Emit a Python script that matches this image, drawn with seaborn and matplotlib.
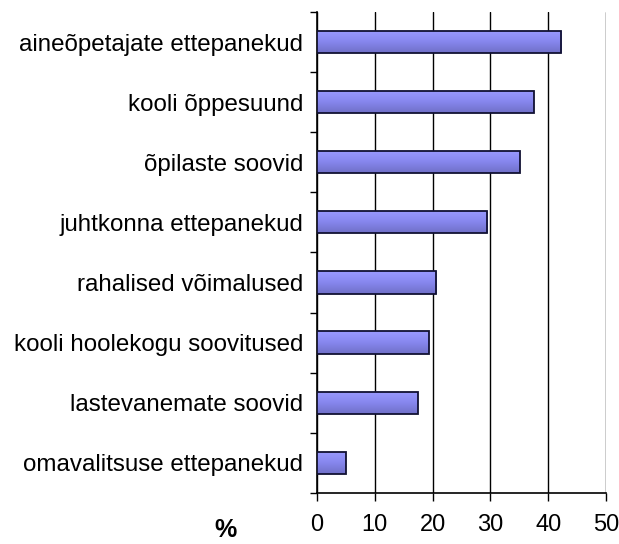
import numpy as np
import pandas as pd
import matplotlib
matplotlib.use("Agg")
import matplotlib.pyplot as plt
import seaborn as sns
from matplotlib.colors import LinearSegmentedColormap

categories = [
    "aineõpetajate ettepanekud",
    "kooli õppesuund",
    "õpilaste soovid",
    "juhtkonna ettepanekud",
    "rahalised võimalused",
    "kooli hoolekogu soovitused",
    "lastevanemate soovid",
    "omavalitsuse ettepanekud",
]
values = [42.3, 37.5, 35.1, 29.5, 20.6, 19.3, 17.4, 5.0]
x_ticks = [0, 10, 20, 30, 40, 50]

sns.set_theme(style="white")
plt.rcParams["font.family"] = ["Liberation Sans", "DejaVu Sans"]
plt.rcParams["text.color"] = "black"
plt.rcParams["xtick.color"] = "black"
plt.rcParams["ytick.color"] = "black"

df = pd.DataFrame({"kategooria": categories, "protsent": values})

fig = plt.figure(figsize=(6.19, 5.44), dpi=100)
ax = fig.add_axes([0.512, 0.094, 0.467, 0.884])

sns.barplot(data=df, x="protsent", y="kategooria", orient="h", width=0.37,
            color="#8080e0", edgecolor="#111133", linewidth=1.3, ax=ax, zorder=3)

# vertical shading inside each bar: lighter top, darker bottom
grad = LinearSegmentedColormap.from_list("bar", ["#9a9aff", "#8787ee", "#7070c8"])
img = np.linspace(0, 1, 64).reshape(-1, 1)
for p in ax.patches:
    x0, y0 = p.get_x(), p.get_y()
    w, h = p.get_width(), p.get_height()
    im = ax.imshow(img, cmap=grad, aspect="auto", extent=[x0, x0 + w, y0 + h, y0],
                   origin="upper", zorder=3.5, interpolation="bilinear")
    im.set_clip_path(p)
    p.set_facecolor("none")
    p.set_zorder(4)

ax.set_xlim(0, 50)
ax.set_ylim(len(categories) - 0.5, -0.5)
ax.set_xticks(x_ticks)
ax.set_xticklabels([str(t) for t in x_ticks], fontsize=17, color="black")
ax.set_yticks(range(len(categories)))
ax.set_yticklabels(categories, fontsize=17.4, color="black")
ax.set_yticks(np.arange(-0.5, len(categories), 1.0), minor=True)
ax.tick_params(axis="y", which="major", length=0, pad=10)
ax.tick_params(axis="y", which="minor", left=True, length=5, width=1, color="black")
ax.tick_params(axis="x", which="major", bottom=True, length=6, width=1, color="black", pad=9)
ax.set_xlabel("")
ax.set_ylabel("")

ax.grid(axis="x", color="black", linewidth=1, zorder=1)
ax.set_axisbelow(True)
for side in ["top", "right"]:
    ax.spines[side].set_visible(False)
for side in ["left", "bottom"]:
    ax.spines[side].set_color("black")
    ax.spines[side].set_linewidth(1.2)

fig.text(0.364, 0.003, "%", fontsize=18, fontweight="bold", ha="center", va="bottom",
         color="black")

fig.savefig("out.png", dpi=100)
